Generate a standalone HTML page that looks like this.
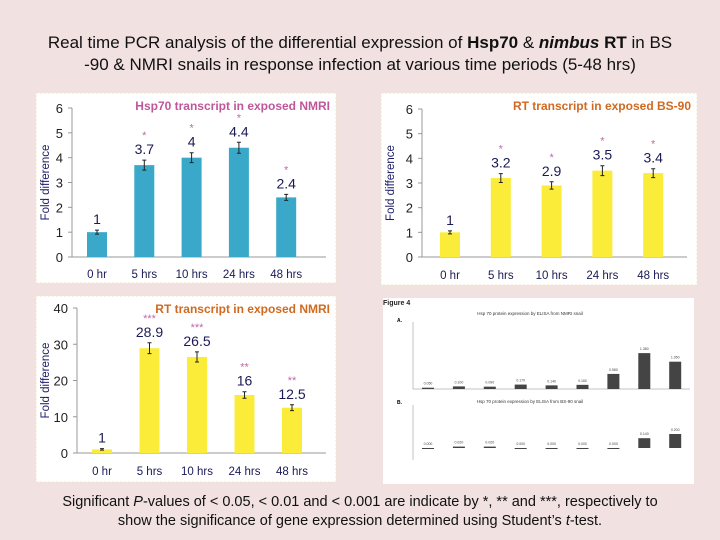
<!DOCTYPE html>
<html><head><meta charset="utf-8">
<style>
body{margin:0;width:720px;height:540px;background:#f1e1e1;font-family:"Liberation Sans",sans-serif;overflow:hidden;position:relative}
.t{position:absolute;left:0;width:720px;text-align:center;color:#111}
</style></head>
<body>
<div class="t" style="top:32px;font-size:17px;line-height:22px">Real time PCR analysis of the differential expression of <b>Hsp70</b> &amp; <b><i>nimbus</i> RT</b> in BS<br>-90 &amp; NMRI snails in response infection at various time periods (5-48 hrs)</div>
<svg id="s" width="720" height="540" style="position:absolute;left:0;top:0"></svg>
<div class="t" style="top:493px;font-size:14.5px;line-height:19px">Significant <i>P</i>-values of &lt; 0.05, &lt; 0.01 and &lt; 0.001 are indicate by *, ** and ***, respectively to<br>show the significance of gene expression determined using Student’s <i>t</i>-test.</div>
<script>
const cats=["0 hr","5 hrs","10 hrs","24 hrs","48 hrs"];
const hspNmri=[1,3.7,4,4.4,2.4];
const hspNmriErr=[0.08,0.2,0.2,0.22,0.12];
const rtBs=[1,3.2,2.9,3.5,3.4];
const rtBsErr=[0.06,0.18,0.15,0.2,0.18];
const rtNmri=[1,28.9,26.5,16,12.5];
const rtNmriErr=[0.2,1.5,1.4,0.9,0.8];
const rtNmriStars=["","***","***","**","**"];
const hspStars=["","*","*","*","*"];
const elisaA=[0.05,0.1,0.09,0.17,0.14,0.16,0.58,1.38,1.05];
const elisaB=[0,0.02,0.02,0,0,0,0,0.14,0.2];
const yTicks6=[0,1,2,3,4,5,6];
const yTicks40=[0,10,20,30,40];
const NS="http://www.w3.org/2000/svg";
const svg=document.getElementById('s');
function mk(t,a,p){const e=document.createElementNS(NS,t);for(const k in a)e.setAttribute(k,a[k]);(p||svg).appendChild(e);return e;}
function txt(x,y,s,a,p){const e=mk('text',Object.assign({x:x,y:y},a),p);e.textContent=s;return e;}
function panel(o){
  const g=mk('g',{});
  
  
  mk('rect',{x:o.bx,y:o.by,width:o.bw,height:o.bh,fill:'#fff',stroke:'#f0e6c0','stroke-dasharray':'2,2'},g);
  const y=v=>o.y0-(v/o.max)*(o.y0-o.yTop);
  const x=i=>o.cx0+i*o.step;
  mk('line',{x1:o.ax,y1:o.yTop,x2:o.ax,y2:o.y0,stroke:'#999'},g);
  mk('line',{x1:o.ax,y1:o.y0,x2:o.bx+o.bw-10,y2:o.y0,stroke:'#999'},g);
  o.ticks.forEach(t=>{mk('line',{x1:o.ax-4,y1:y(t),x2:o.ax,y2:y(t),stroke:'#999'},g);
    const l=txt(o.ax-9,y(t)+5,t,{'text-anchor':'end','font-size':13,fill:'#222'},g);});
  const yl=txt(0,0,'Fold difference',{'font-size':11.5,fill:'#1a1a66',transform:`translate(${o.bx+13},${(o.y0+o.yTop)/2}) rotate(-90)`,'text-anchor':'middle'},g);
  
  const ti=txt(o.bx+o.bw-6,o.by+17,o.title,{'text-anchor':'end','font-size':12,'font-weight':'bold',fill:o.tcol},g);
  
  o.vals.forEach((v,i)=>{
    const b=mk('rect',{x:x(i)-10,y:y(v),width:20,height:o.y0-y(v),fill:o.col},g);
    
    
    const e=o.err[i];
    mk('path',{d:`M${x(i)} ${y(v+e)}V${y(v-e)}M${x(i)-2} ${y(v+e)}h4M${x(i)-2} ${y(v-e)}h4`,stroke:'#222','stroke-width':1},g);
    const vl=txt(x(i),y(v+e)-6,v,{'text-anchor':'middle','font-size':14,fill:'#1a1a55'},g);
    
    if(o.stars[i]){const st=txt(x(i),y(v+e)-21,o.stars[i],{'text-anchor':'middle','font-size':11,fill:'#c06aa8'},g);}
    const cl=txt(x(i),o.labY,cats[i],{'text-anchor':'middle','font-size':11.5,fill:'#1a1a55'},g);
    
  });
}
panel({name:'hsp70-nmri-chart',bx:36,by:93,bw:300,bh:190,ax:72,y0:257,yTop:108,max:6,cx0:97,step:47.3,labY:278,ticks:yTicks6,vals:hspNmri,err:hspNmriErr,stars:hspStars,col:'#3aa8c8',title:'Hsp70 transcript in exposed NMRI',tcol:'#c0569a'});
panel({name:'rt-bs90-chart',bx:381,by:93,bw:316,bh:192,ax:422,y0:257,yTop:109,max:6,cx0:450,step:50.8,labY:279,ticks:yTicks6,vals:rtBs,err:rtBsErr,stars:hspStars,col:'#fbec3a',title:'RT transcript in exposed BS-90',tcol:'#d06a20'});
panel({name:'rt-nmri-chart',bx:36,by:296,bw:300,bh:186,ax:77,y0:453,yTop:308,max:40,cx0:102,step:47.5,labY:475,ticks:yTicks40,vals:rtNmri,err:rtNmriErr,stars:rtNmriStars,col:'#fbec3a',title:'RT transcript in exposed NMRI',tcol:'#d06a20'});
const g4=mk('g',{});


mk('rect',{x:383,y:298,width:311,height:186,fill:'#fff'},g4);
txt(383,305,'Figure 4',{'font-size':7,'font-weight':'bold',fill:'#222'},g4);
txt(530,315,'Hsp 70 protein expression by ELISA from NMRI snail',{'font-size':4.5,'text-anchor':'middle',fill:'#333'},g4);
txt(530,403,'Hsp 70 protein expression by ELISA from BS-90 snail',{'font-size':4.5,'text-anchor':'middle',fill:'#333'},g4);
txt(397,322,'A.',{'font-size':5,'font-weight':'bold'},g4);
txt(397,404,'B.',{'font-size':5,'font-weight':'bold'},g4);
const ax=v=>389-v*(389-337)/2, bxs=i=>428+i*30.9;
mk('line',{x1:413,y1:322,x2:413,y2:389,stroke:'#888','stroke-width':0.5},g4);
mk('line',{x1:413,y1:389,x2:690,y2:389,stroke:'#888','stroke-width':0.5},g4);
elisaA.forEach((v,i)=>{const b=mk('rect',{x:bxs(i)-6,y:ax(v),width:12,height:389-ax(v),fill:'#444'},g4);

txt(bxs(i),ax(v)-3,v.toFixed(3),{'font-size':3.5,'text-anchor':'middle',fill:'#444'},g4);});
const by=v=>448-v*(448-413)/0.5;
mk('line',{x1:413,y1:405,x2:413,y2:460,stroke:'#888','stroke-width':0.5},g4);
elisaB.forEach((v,i)=>{const b=mk('rect',{x:bxs(i)-6,y:by(v),width:12,height:Math.max(1,448-by(v)),fill:'#444'},g4);

txt(bxs(i),by(v)-3,v.toFixed(3),{'font-size':3.5,'text-anchor':'middle',fill:'#444'},g4);});
</script>
</body></html>
